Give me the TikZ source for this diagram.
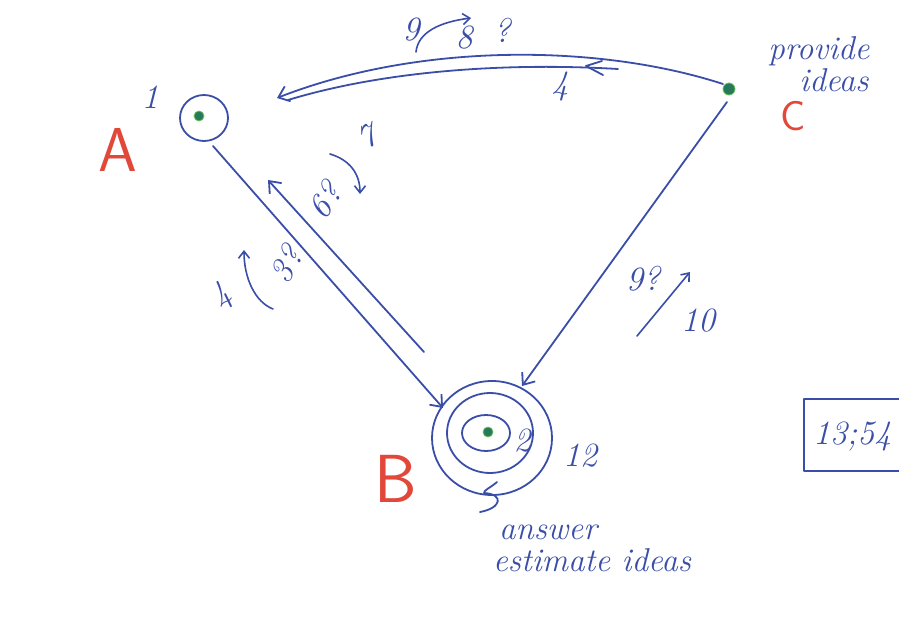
\documentclass[tikz,border=0pt]{standalone}
\usetikzlibrary{arrows.meta,shapes.geometric}
\definecolor{pen}{RGB}{58,78,168}
\definecolor{redpen}{RGB}{226,72,58}
\definecolor{greenpen}{RGB}{38,122,92}
\definecolor{greenring}{RGB}{110,190,90}
\begin{document}
\begin{tikzpicture}[x=1pt,y=-1pt,line cap=round,line join=round,
  ink/.style={draw=pen,line width=1.8pt},
  arr/.style={ink,-{Straight Barb[length=10pt,width=16pt,line width=1.8pt]}},
  arrs/.style={ink,line width=1.6pt,-{Straight Barb[length=7pt,width=11pt,line width=1.6pt]}},
  lbl/.style={text=pen,font=\fontsize{34}{34}\selectfont\itshape,inner sep=0pt},
  word/.style={text=pen,font=\fontsize{33}{33}\selectfont\itshape,inner sep=0pt,anchor=base},
  letter/.style={text=redpen,inner sep=0pt},
  dot/.style={circle,fill=greenpen,draw=greenring,line width=0.8pt,inner sep=0pt,minimum size=10pt},
  ring/.style={ellipse,draw=pen,line width=1.8pt,inner sep=0pt}]
\fill[white] (0,0) rectangle (899,621);
\useasboundingbox (0,0) rectangle (899,621);

% ---- A ----
\node[ring,minimum width=48pt,minimum height=46pt] (Aring) at (204,118) {};
\node[dot] (A) at (199,116) {};
\node[lbl] (one) at (150,97) {1};
\node[letter,font=\fontsize{62}{62}\selectfont\sffamily] (Alab) at (118,150) {A};

% ---- C ----
\node[dot,minimum size=12pt] (C) at (729,89) {};
\node[letter,font=\fontsize{42}{42}\selectfont\sffamily] (Clab) at (793,116) {C};
\node[word] (provide) at (819,59) {provide};
\node[word] (ideasC) at (834,91) {ideas};

% ---- B ----
\node[ring,minimum width=120pt,minimum height=114pt] (Bout) at (492,438) {};
\node[ring,minimum width=86pt,minimum height=80pt] (Bmid) at (490,433) {};
\node[ring,minimum width=48pt,minimum height=36pt] (Bin) at (486,433) {};
\node[dot] (B) at (488,432) {};
\node[lbl] (two) at (522,441) {2};
\node[lbl] (twelve) at (580,456) {12};
\node[letter,font=\fontsize{68}{68}\selectfont\sffamily] (Blab) at (396,479) {B};
\coordinate (h1) at (497,482);
\coordinate (h2) at (480,512);
\draw[ink] (h1) .. controls (490,488) and (484,490) .. (484,493)
  .. controls (504,494) and (502,508) .. (h2);
\node[word] (answer) at (548,539) {answer};
\node[word] (estimate) at (592,571) {estimate ideas};

% ---- A -- B ----
\coordinate (a1) at (213,146);
\coordinate (b1) at (443,408);
\draw[arr] (a1) -- (b1);
\coordinate (b2) at (424,352);
\coordinate (a2) at (268,180);
\draw[arr] (b2) -- (a2);
\node[lbl,rotate=55] (six) at (325,200) {6\kern1pt?};
\node[lbl,rotate=25] (seven) at (367,137) {7};
\coordinate (s1) at (330,154);
\coordinate (s2) at (360,194);
\draw[arrs] (s1) .. controls (350,160) and (360,174) .. (s2);
\node[lbl,rotate=40] (four) at (222,297) {4};
\node[lbl,rotate=60] (three) at (286,264) {3\kern1pt?};
\coordinate (t1) at (273,309);
\coordinate (t2) at (244,250);
\draw[arrs] (t1) .. controls (255,302) and (244,278) .. (t2);

% ---- C -- B ----
\coordinate (c1) at (727,102);
\coordinate (b3) at (522,386);
\draw[arr] (c1) -- (b3);
\node[lbl] (nine) at (643,279) {9?};
\coordinate (u1) at (637,336);
\coordinate (u2) at (690,272);
\draw[arrs] (u1) -- (u2);
\node[lbl] (ten) at (698,321) {10};

% ---- C -- A ----
\coordinate (c2) at (723,84);
\coordinate (a3) at (277,98);
\draw[arr] (c2) .. controls (600,44) and (420,42) .. (a3);
\coordinate (a4) at (288,100);
\coordinate (c3) at (618,69);
\draw[ink] (a4) .. controls (380,72) and (500,62) .. (c3);
\coordinate (k1) at (602,61);
\coordinate (k2) at (586,66);
\coordinate (k3) at (603,75);
\draw[ink] (k1) -- (k2) -- (k3);
\node[lbl] (fourtop) at (560,86) {4};
\node[lbl] (ninetop) at (411,30) {9};
\node[lbl] (eight) at (464,38) {8};
\node[lbl] (q) at (502,30) {?};
\coordinate (v1) at (416,52);
\coordinate (v2) at (471,18);
\draw[arrs] (v1) .. controls (418,32) and (440,22) .. (v2);

% ---- box ----
\node[draw=pen,line width=1.6pt,minimum width=102pt,minimum height=72pt,
      anchor=north west,inner sep=0pt] (box) at (803,398) {};
\node[lbl,anchor=west] (boxtxt) at (813,436) {13;54};
\end{tikzpicture}
\end{document}
